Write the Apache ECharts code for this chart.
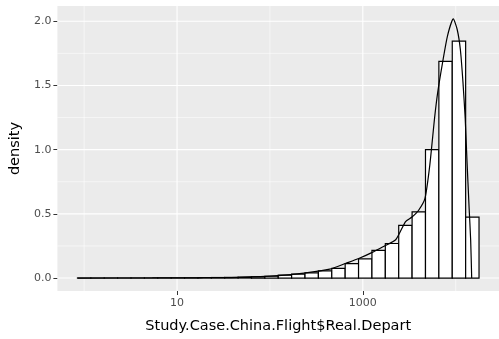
<!DOCTYPE html>
<html>
<head>
<meta charset="utf-8">
<script src="https://cdn.jsdelivr.net/npm/echarts@6/dist/echarts.min.js"></script>
<style>
html,body{margin:0;padding:0;background:#fff;}
#chart{width:499px;height:339px;}
</style>
</head>
<body>
<div id="chart"></div>
<script>
// Histogram bins on log10 scale of Study.Case.China.Flight$Real.Depart
const binStartLog = -0.072;
const binWidthLog = 0.1441;
const binDensity = [0.0003, 0.0003, 0.0005, 0.0005, 0.0008, 0.001, 0.0012, 0.0015, 0.002, 0.003,
  0.004, 0.005, 0.007, 0.01, 0.014, 0.022, 0.031, 0.04, 0.055, 0.075,
  0.113, 0.149, 0.215, 0.269, 0.41, 0.515, 1.0, 1.688, 1.846, 0.475];
// Kernel density curve (x in log10 units)
const densityX = [-0.071, 0.734, 1.255, 1.672, 2.089, 2.367, 2.644, 2.818, 2.956, 3.096, 3.217, 3.356,
  3.460, 3.529, 3.599, 3.669, 3.721, 3.773, 3.807, 3.859, 3.911, 3.974, 4.016, 4.050, 4.078, 4.102,
  4.120, 4.144, 4.161, 4.172];
const densityY = [0, 0.0005, 0.002, 0.005, 0.018, 0.038, 0.069, 0.115, 0.152, 0.198, 0.244, 0.300,
  0.44, 0.475, 0.526, 0.62, 0.88, 1.25, 1.45, 1.68, 1.885, 2.018, 1.936, 1.78, 1.526, 1.244,
  0.936, 0.55, 0.295, 0];
const xMajorBreaks = [1, 3];
const xMinorBreaks = [0, 2, 4];
const yMajorBreaks = [0, 0.5, 1, 1.5, 2];
const yMinorBreaks = [0.25, 0.75, 1.25, 1.75];

const bars = binDensity.map((v, k) => [binStartLog + k * binWidthLog, binStartLog + (k + 1) * binWidthLog, v]);
const vGrid = xMajorBreaks.map(v => [v, 1]).concat(xMinorBreaks.map(v => [v, 0]));
const hGrid = yMajorBreaks.map(v => [v, 1]).concat(yMinorBreaks.map(v => [v, 0]));

const chart = echarts.init(document.getElementById('chart'), null, {renderer: 'canvas'});
const font = 'DejaVu Sans';
chart.setOption({
  animation: false,
  grid: {left: 52, top: 6, width: 456, height: 289, show: true, backgroundColor: '#EBEBEB', borderWidth: 0},
  xAxis: {
    type: 'value', min: -0.288, max: 4.466,
    name: 'Study.Case.China.Flight$Real.Depart', nameLocation: 'middle', nameGap: 28,
    nameTextStyle: {color: '#000', fontFamily: font, fontSize: 14.5},
    axisLine: {show: false, onZero: false},
    axisTick: {show: true, length: 4, lineStyle: {color: '#333', width: 1}, customValues: xMajorBreaks},
    axisLabel: {color: '#4D4D4D', fontFamily: font, fontSize: 11, margin: 7, customValues: xMajorBreaks,
      formatter: v => String(Math.round(Math.pow(10, v)))},
    splitLine: {show: false}
  },
  yAxis: {
    type: 'value', min: -0.101, max: 2.119,
    name: 'density', nameLocation: 'middle', nameGap: 29, nameRotate: 90,
    nameTextStyle: {color: '#000', fontFamily: font, fontSize: 14.5},
    axisLine: {show: false, onZero: false},
    axisTick: {show: true, length: 4, lineStyle: {color: '#333', width: 1}, customValues: yMajorBreaks},
    axisLabel: {color: '#4D4D4D', fontFamily: font, fontSize: 11, margin: 6, customValues: yMajorBreaks,
      formatter: v => v.toFixed(1)},
    splitLine: {show: false}
  },
  series: [
    {
      type: 'custom', silent: true, z: 1, clip: false,
      data: vGrid,
      renderItem: (params, api) => {
        const cs = params.coordSys;
        const x = api.coord([api.value(0), 0])[0];
        return {type: 'line', shape: {x1: x, y1: cs.y, x2: x, y2: cs.y + cs.height},
          style: {stroke: '#FFFFFF', lineWidth: api.value(1) ? 1.1 : 0.55}};
      }
    },
    {
      type: 'custom', silent: true, z: 1, clip: false,
      data: hGrid,
      renderItem: (params, api) => {
        const cs = params.coordSys;
        const y = api.coord([0, api.value(0)])[1];
        return {type: 'line', shape: {x1: cs.x, y1: y, x2: cs.x + cs.width, y2: y},
          style: {stroke: '#FFFFFF', lineWidth: api.value(1) ? 1.1 : 0.55}};
      }
    },
    {
      type: 'custom', z: 2,
      data: bars,
      renderItem: (params, api) => {
        const p0 = api.coord([api.value(0), api.value(2)]);
        const p1 = api.coord([api.value(1), 0]);
        return {type: 'rect', shape: {x: p0[0], y: p0[1], width: p1[0] - p0[0], height: p1[1] - p0[1]},
          style: {fill: '#FFFFFF', stroke: '#000000', lineWidth: 1.2}};
      }
    },
    {
      type: 'line', z: 3,
      data: densityX.map((x, i) => [x, densityY[i]]),
      showSymbol: false, smooth: 0.2,
      lineStyle: {color: '#000', width: 1.2}
    }
  ]
});
</script>
</body>
</html>
